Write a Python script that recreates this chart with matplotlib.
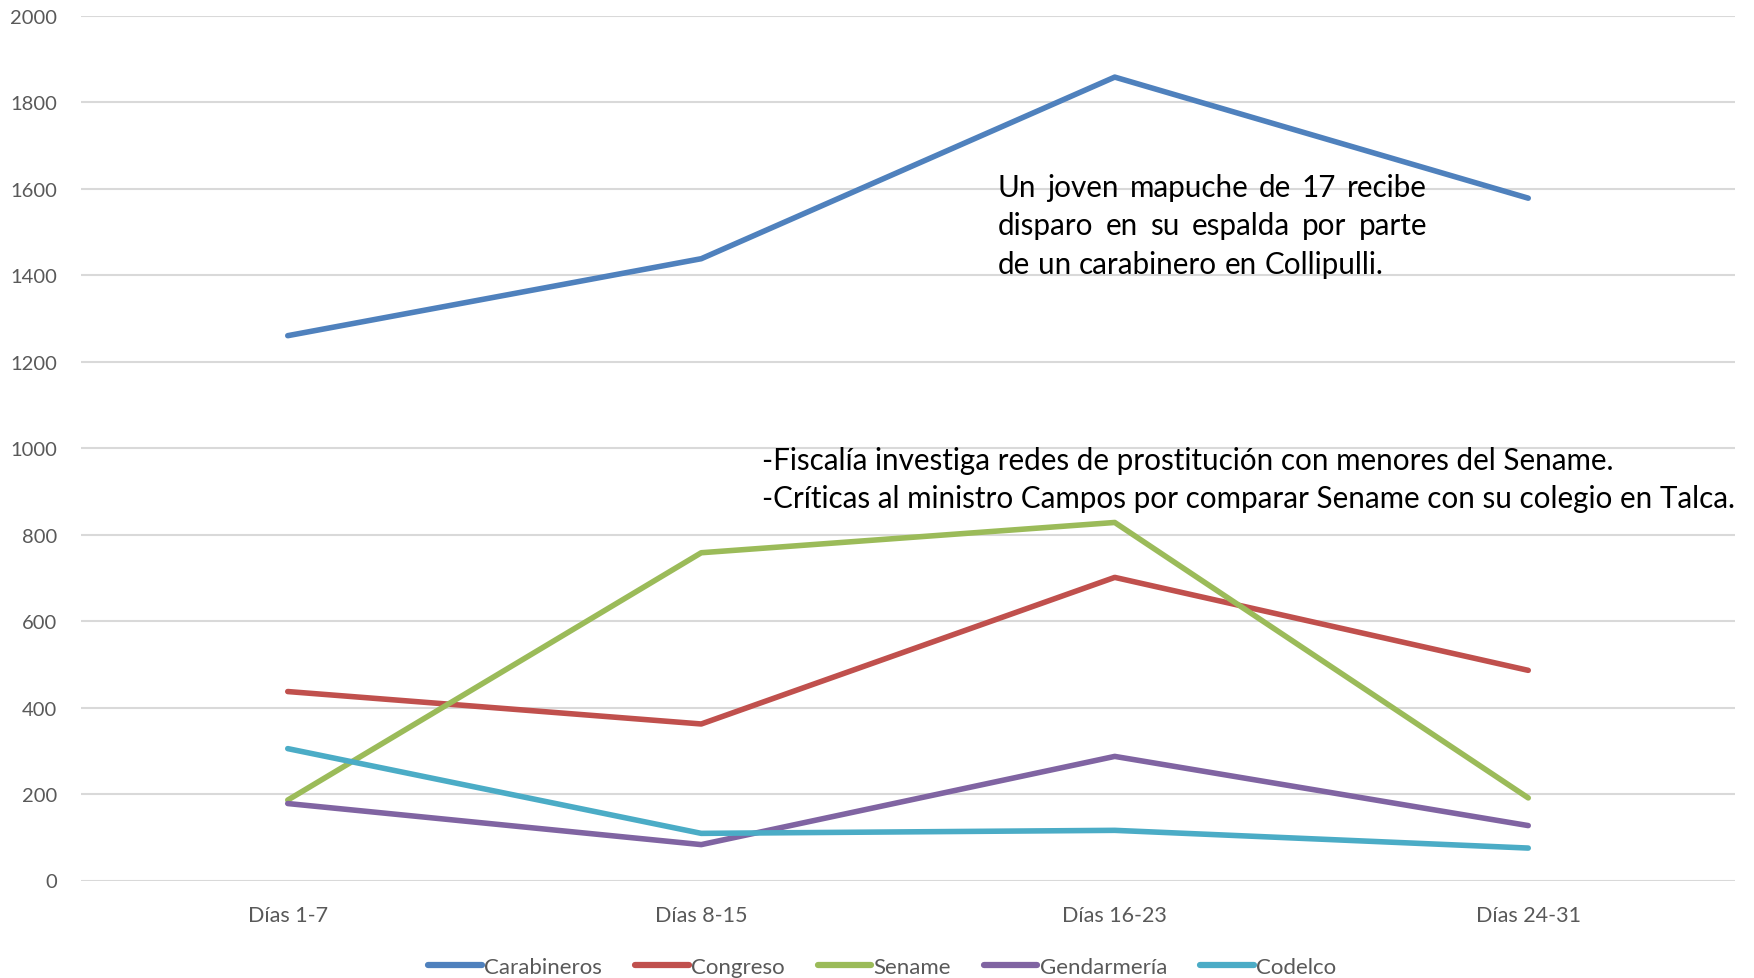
import matplotlib
matplotlib.use("Agg")
import matplotlib.pyplot as plt

categories = ["Días 1-7", "Días 8-15", "Días 16-23", "Días 24-31"]
carabineros = [1260, 1438, 1858, 1578]
congreso = [437, 362, 701, 486]
sename = [186, 758, 828, 191]
gendarmeria = [178, 83, 287, 127]
codelco = [305, 109, 116, 75]
series_names = ["Carabineros", "Congreso", "Sename", "Gendarmería", "Codelco"]
colors = ["#4F81BD", "#C0504D", "#9BBB59", "#8064A2", "#4BACC6"]
y_ticks = [0, 200, 400, 600, 800, 1000, 1200, 1400, 1600, 1800, 2000]

note1 = ["Un joven mapuche de 17 recibe",
         "disparo en su espalda por parte",
         "de un carabinero en Collipulli."]
note2 = ["-Fiscalía investiga redes de prostitución con menores del Sename.",
         "-Críticas al ministro Campos por comparar Sename con su colegio en Talca."]

plt.rcParams['font.family'] = ['Lato', 'DejaVu Sans']

W, H = 1754, 979
fig = plt.figure(figsize=(W / 100, H / 100), dpi=100)
ax = fig.add_axes([81 / W, 1 - 881.5 / H, (1735 - 81) / W, (881.5 - 16.7) / H])

data = [carabineros, congreso, sename, gendarmeria, codelco]
x = list(range(len(categories)))
for name, vals, c in zip(series_names, data, colors):
    ax.plot(x, vals, color=c, lw=4, label=name, solid_capstyle='round',
            solid_joinstyle='round', zorder=3)

ax.set_xlim(-0.5, len(categories) - 0.5)
ax.set_ylim(0, 2000)
ax.set_yticks(y_ticks)
ax.set_xticks(x)
ax.set_xticklabels(categories)
ax.grid(axis='y', color='#D9D9D9', lw=1.5, zorder=0)
for s in ax.spines.values():
    s.set_visible(False)
ax.tick_params(axis='both', length=0, labelcolor='#595959', labelsize=14.5)
ax.tick_params(axis='x', labelsize=15.5, pad=18)
ax.tick_params(axis='y', pad=17)

leg = fig.legend(loc='center', bbox_to_anchor=(0.503, 1 - 968 / H), ncol=5,
                 frameon=False, fontsize=16, handlelength=2.4, handletextpad=0.1,
                 columnspacing=1.5, labelcolor='#595959')
for l in leg.get_lines():
    l.set_linewidth(4.5)

fig.canvas.draw()
renderer = fig.canvas.get_renderer()

FS = 21.3


def justified(words_line, x0, x1, y, justify=True):
    words = words_line.split(" ")
    texts = []
    widths = []
    for w in words:
        t = fig.text(0, y, w, fontsize=FS, color='black', va='center', ha='left',
                     transform=None)
        texts.append(t)
        widths.append(t.get_window_extent(renderer).width)
    if justify and len(words) > 1:
        gap = (x1 - x0 - sum(widths)) / (len(words) - 1)
    else:
        sp = fig.text(0, 0, "a a", fontsize=FS, transform=None)
        sp2 = fig.text(0, 0, "aa", fontsize=FS, transform=None)
        gap = sp.get_window_extent(renderer).width - sp2.get_window_extent(renderer).width
        sp.remove(); sp2.remove()
    xp = x0
    for t, w in zip(texts, widths):
        t.set_position((xp, y))
        xp += w + gap


# pixel coords: matplotlib display origin is bottom-left
justified(note1[0], 998, 1427, H - 188)
justified(note1[1], 998, 1427, H - 226)
justified(note1[2], 998, 1427, H - 265, justify=False)

fig.text(762 / W, 1 - 461 / H, note2[0], fontsize=FS, color='black', va='center', ha='left')
fig.text(762 / W, 1 - 499 / H, note2[1], fontsize=FS, color='black', va='center', ha='left')

fig.savefig("out.png", dpi=100)
